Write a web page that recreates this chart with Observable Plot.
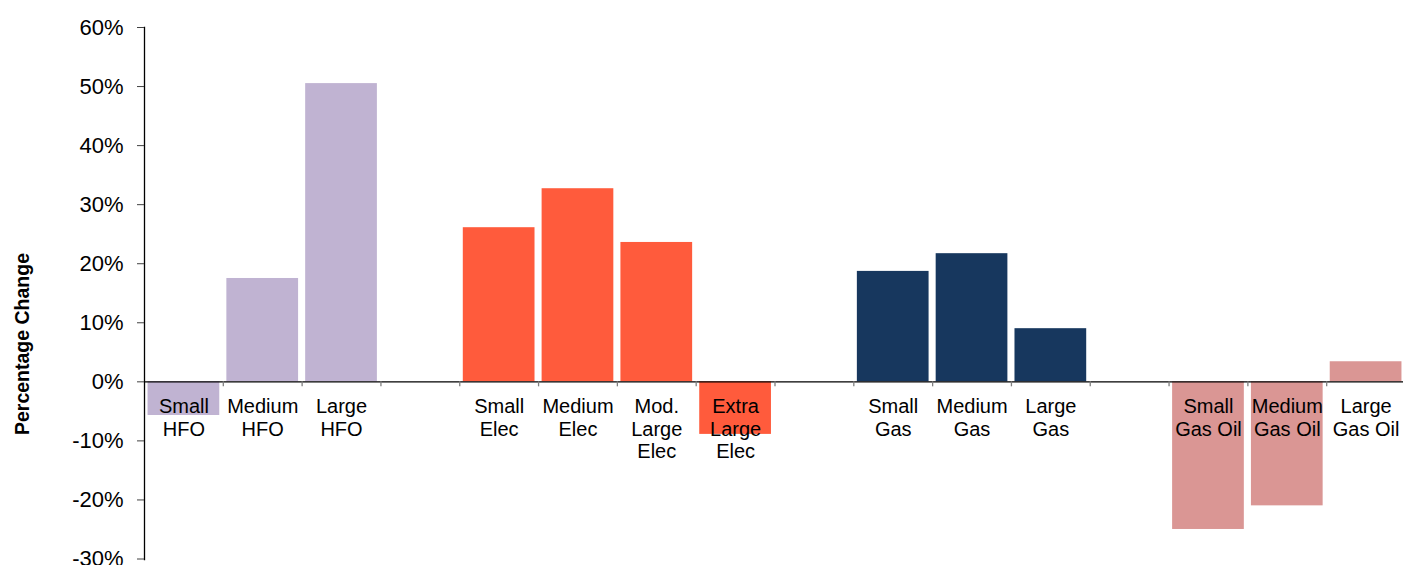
<!DOCTYPE html>
<html>
<head>
<meta charset="utf-8">
<script src="https://cdn.jsdelivr.net/npm/d3@7"></script>
<script src="https://cdn.jsdelivr.net/npm/@observablehq/plot@0.6"></script>
<style>
  html, body { margin: 0; padding: 0; background: #fff; }
  #chart svg { display: block; }
</style>
</head>
<body>
<div id="chart"></div>
<script>
// Slots along the x axis, including the empty spacer slots between fuel groups
const slots = [
  "Small HFO", "Medium HFO", "Large HFO", "gap 1",
  "Small Elec", "Medium Elec", "Mod. Large Elec", "Extra Large Elec", "gap 2",
  "Small Gas", "Medium Gas", "Large Gas", "gap 3",
  "Small Gas Oil", "Medium Gas Oil", "Large Gas Oil"
];

// Bars: category, label text, percentage change, fuel group
const categories = [
  "Small HFO", "Medium HFO", "Large HFO",
  "Small Elec", "Medium Elec", "Mod. Large Elec", "Extra Large Elec",
  "Small Gas", "Medium Gas", "Large Gas",
  "Small Gas Oil", "Medium Gas Oil", "Large Gas Oil"
];
const labels = [
  "Small\nHFO", "Medium\nHFO", "Large\nHFO",
  "Small\nElec", "Medium\nElec", "Mod.\nLarge\nElec", "Extra\nLarge\nElec",
  "Small\nGas", "Medium\nGas", "Large\nGas",
  "Small\nGas Oil", "Medium\nGas Oil", "Large\nGas Oil"
];
const values = [
  -5.7, 17.5, 50.5,
  26.1, 32.7, 23.6, -8.9,
  18.7, 21.7, 9.0,
  -25.0, -21.0, 3.4
];
const groups = [
  "HFO", "HFO", "HFO",
  "Elec", "Elec", "Elec", "Elec",
  "Gas", "Gas", "Gas",
  "Gas Oil", "Gas Oil", "Gas Oil"
];

const groupNames = ["HFO", "Elec", "Gas", "Gas Oil"];
const groupColors = ["#c0b3d2", "#ff5b3c", "#17375e", "#da9694"];

const yTicks = [-30, -20, -10, 0, 10, 20, 30, 40, 50, 60];
const yTitle = "Percentage Change";

const bars = categories.map((c, i) => ({category: c, label: labels[i], value: values[i], group: groups[i]}));

const xRange = [144, 1405];
const step = (xRange[1] - xRange[0]) / slots.length;

const chart = Plot.plot({
  width: 1403,
  height: 565,
  marginLeft: 144,
  marginRight: 0,
  marginTop: 27,
  marginBottom: 6,
  style: {fontFamily: "'Liberation Sans', Arial, sans-serif", background: "#fff", color: "#000", overflow: "visible"},
  x: {domain: slots, range: xRange, round: false, paddingInner: 0.09, paddingOuter: 0.045, axis: null},
  y: {domain: [-30, 60], range: [558.5, 27], axis: null},
  color: {domain: groupNames, range: groupColors},
  marks: [
    Plot.barY(bars, {x: "category", y: "value", fill: "group"}),
    // zero line
    Plot.ruleY([0], {stroke: "#000", strokeWidth: 1.4}),
    // small ticks on the zero line between slots
    Plot.ruleX(slots.slice(1), {x: d => d, dx: -step / 2, y1: 0, y2: 0, insetBottom: -5, stroke: "#7f7f7f", strokeWidth: 1.3}),
    // y axis
    Plot.frame({anchor: "left", stroke: "#000", strokeWidth: 1.3}),
    Plot.axisY(yTicks, {
      label: null, tickSize: 7, tickPadding: 14, fontSize: 22, stroke: "#404040",
      tickFormat: d => `${d}%`
    }),
    // category labels under the zero line
    Plot.text(bars, {
      x: "category", y: 0, text: "label", lineAnchor: "top", dy: 15,
      lineHeight: 1.135, fontSize: 20, fill: "#000"
    }),
    // y axis title
    Plot.text([yTitle], {
      frameAnchor: "left", textAnchor: "middle", dx: -122, dy: 50.5, rotate: -90,
      fontSize: 19.5, fontWeight: "bold", fill: "#000"
    })
  ]
});

document.getElementById("chart").appendChild(chart);
</script>
</body>
</html>
